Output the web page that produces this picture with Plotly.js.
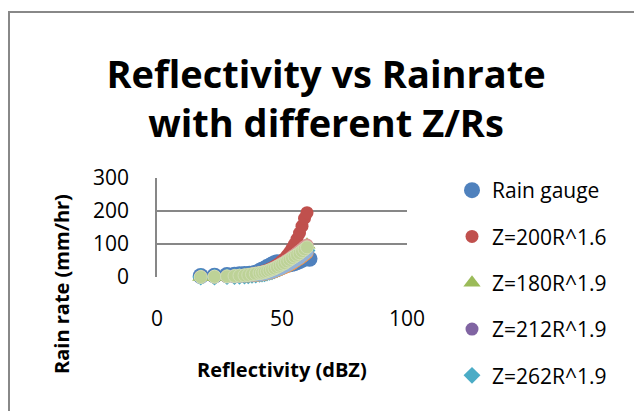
<!DOCTYPE html>
<html>
<head>
<meta charset="utf-8">
<script src="https://cdn.plot.ly/plotly-3.0.1.min.js"></script>
<style>
  html, body { margin: 0; padding: 0; background: #fff; }
  #chart { position: absolute; left: 0; top: 0; width: 634px; height: 411px; }
  #frame { position: absolute; left: 8px; top: 11px; width: 700px; height: 500px;
           border: 2px solid #888; pointer-events: none; z-index: 10; }
</style>
</head>
<body>
<div id="chart"></div>
<div id="frame"></div>
<script>
// Reflectivity (dBZ) for the Z/R curves
var dbz = [17.5, 23, 28, 31, 33, 35, 36.5, 38, 39.5, 41, 42, 43, 44, 45, 46, 47, 48, 49, 50, 51, 52, 53, 54, 55, 56, 57, 58, 59, 60];
// Rain gauge observations
var gaugeDbz = [17.5, 23, 28, 31, 33, 35, 37, 39, 40, 41, 42, 43, 44, 45, 46, 47, 48, 49, 50, 51, 52, 53, 54, 55, 56, 57, 58, 59, 60, 61];
var gaugeRain = [3, 4, 6, 7, 8, 9, 10, 12, 14, 18, 22, 25, 30, 33, 38, 42, 45, 44, 44, 42, 40, 38, 40, 42, 45, 48, 52, 56, 58, 55];
// Z/R relationships (mm/hr)
var z200r16 = [0.5, 1, 2, 3, 4, 6, 7, 9, 11, 13, 15, 18, 20, 24, 27, 32, 37, 42, 49, 56, 65, 75, 87, 100, 115, 133, 154, 178, 195];
var z180r19 = [0, 0, 1, 2, 3, 4, 5, 6, 8, 10, 11, 13, 15, 17, 20, 23, 27, 31, 35, 40, 45, 50, 56, 62, 68, 75, 82, 90, 98];
var z212r19 = [0, 0, 1, 2, 3, 4, 5, 6, 7, 9, 10, 12, 14, 16, 18, 21, 25, 28, 32, 37, 41, 46, 51, 57, 63, 69, 76, 83, 90];
var z262r19 = [0, 0, 1, 1, 2, 3, 4, 5, 6, 8, 9, 10, 12, 14, 16, 19, 22, 25, 29, 33, 37, 41, 46, 51, 56, 62, 68, 74, 80];
// further series whose legend entries fall outside the chart frame
var extraOrange = [0, 0, 1, 1, 2, 3, 3, 4, 5, 6, 7, 9, 10, 12, 14, 16, 19, 22, 25, 28, 32, 36, 40, 45, 50, 55, 60, 66, 72];
var extraLightBlue = [0, 0, 1, 1, 2, 3, 4, 5, 6, 7, 8, 10, 11, 13, 15, 18, 21, 24, 27, 31, 35, 39, 44, 48, 53, 58, 64, 70, 76];
var extraPink = [1, 1, 2, 3, 4, 5, 7, 9, 11, 13, 15, 17, 19, 22, 25, 29, 33, 37, 42, 46, 51, 56, 62, 67, 73, 79, 85, 92, 97];
var extraLightGreen = [0, 1, 2, 3, 4, 5, 6, 8, 10, 12, 13, 15, 17, 20, 23, 26, 30, 34, 38, 42, 47, 52, 57, 62, 67, 72, 78, 84, 90];

var xTicks = [0, 50, 100];
var yTicks = [0, 100, 200, 300];

var FONT = '"Open Sans", Lato, sans-serif';

function tr(x, y, name, color, symbol, size, showlegend, lineColor) {
  return {
    type: 'scatter', mode: 'markers', x: x, y: y, name: name,
    legendgroup: name, showlegend: showlegend, cliponaxis: false,
    marker: { color: color, symbol: symbol, size: size,
              line: { width: lineColor ? 1 : 0, color: lineColor || color } },
    hoverinfo: 'x+y+name'
  };
}

var data = [
  tr(gaugeDbz, gaugeRain, 'Rain gauge', '#4F81BD', 'circle', 16, true),
  tr(dbz, z200r16, 'Z=200R^1.6', '#C0504D', 'circle', 13, true),
  tr(dbz, z180r19, 'Z=180R^1.9', '#9BBB59', 'triangle-up', 15, true),
  tr(dbz, z212r19, 'Z=212R^1.9', '#8064A2', 'circle', 13, true),
  tr(dbz, z262r19, 'Z=262R^1.9', '#4BACC6', 'diamond', 13, true),
  tr(dbz, extraOrange, 's6', '#F79646', 'circle', 13, false),
  tr(dbz, extraLightBlue, 's7', '#95B3D7', 'circle', 13, false),
  tr(dbz, extraPink, 's8', '#D99694', 'circle', 13, false),
  tr(dbz, extraLightGreen, 's9', '#BDD297', 'circle', 13, false, '#CFDDB4')
];

var L = 157, R = 227, T = 178, B = 134;
var PW = 634 - L - R, PH = 411 - T - B;
function px(p) { return (p - L) / PW; }
function py(p) { return (411 - B - p) / PH; }

var layout = {
  width: 634, height: 411,
  margin: { l: L, r: R, t: T, b: B, pad: 0 },
  paper_bgcolor: '#ffffff', plot_bgcolor: '#ffffff',
  font: { family: FONT, color: '#000000', size: 20 },
  title: {
    text: '<b>Reflectivity vs Rainrate<br>with different Z/Rs</b>',
    font: { family: FONT, size: 38, color: '#000000' },
    x: 326 / 634, xanchor: 'center', xref: 'container',
    y: 1 - 88 / 411, yanchor: 'top', yref: 'container'
  },
  xaxis: {
    range: [0, 100], tickvals: xTicks, ticktext: xTicks.map(String),
    showgrid: false, zeroline: false, showline: false, ticks: '',
    ticklabelstandoff: 27, tickfont: { family: FONT, size: 21, color: '#000' },
    fixedrange: true
  },
  yaxis: {
    range: [0, 300], tickvals: yTicks, ticktext: yTicks.map(String),
    showgrid: true, gridcolor: '#878787', gridwidth: 1.5,
    zeroline: false, showline: true, linecolor: '#878787', linewidth: 1.5,
    ticks: '', ticklabelstandoff: 22,
    tickfont: { family: FONT, size: 21, color: '#000' },
    fixedrange: true
  },
  showlegend: true,
  legend: {
    x: px(452), xanchor: 'left', y: py(170), yanchor: 'top',
    font: { family: FONT, size: 21, color: '#000' },
    bgcolor: 'rgba(0,0,0,0)', borderwidth: 0, maxheight: 320,
    tracegroupgap: 16, itemclick: false, itemdoubleclick: false
  },
  annotations: [
    { text: '<b>Reflectivity (dBZ)</b>', xref: 'paper', yref: 'paper',
      x: px(282), y: py(369), xanchor: 'center', yanchor: 'middle',
      showarrow: false, font: { family: FONT, size: 20, color: '#000' } },
    { text: '<b>Rain rate (mm/hr)</b>', xref: 'paper', yref: 'paper',
      x: px(61), y: py(284), xanchor: 'center', yanchor: 'middle',
      textangle: -90, showarrow: false,
      font: { family: FONT, size: 20, color: '#000' } }
  ]
};

Plotly.newPlot('chart', data, layout, { displayModeBar: false });
</script>
</body>
</html>
